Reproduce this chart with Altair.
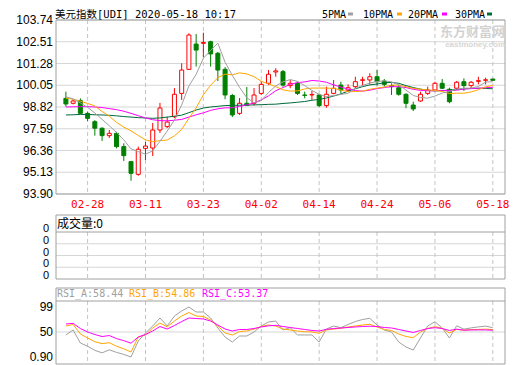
import altair as alt
import pandas as pd

# ---------------- data ----------------
dates = ["02-25", "02-26", "02-27", "02-28", "03-02", "03-03", "03-04", "03-05", "03-06", "03-09",
         "03-10", "03-11", "03-12", "03-13", "03-16", "03-17", "03-18", "03-19", "03-20", "03-23",
         "03-24", "03-25", "03-26", "03-27", "03-30", "03-31", "04-01", "04-02", "04-03", "04-06",
         "04-07", "04-08", "04-09", "04-10", "04-13", "04-14", "04-15", "04-16", "04-17", "04-20",
         "04-21", "04-22", "04-23", "04-24", "04-27", "04-28", "04-29", "04-30", "05-01", "05-04",
         "05-05", "05-06", "05-07", "05-08", "05-11", "05-12", "05-13", "05-14", "05-15", "05-18"]

open_ = [99.31, 99.03, 99.18, 98.46, 97.99, 97.62, 97.20, 97.33, 96.58, 95.73,
         95.01, 96.48, 96.50, 97.52, 97.71, 98.27, 99.59, 100.95, 102.38, 102.42,
         102.51, 101.86, 100.95, 99.47, 98.46, 99.03, 99.03, 99.59, 100.16, 100.80,
         100.82, 100.03, 100.16, 99.50, 99.50, 99.50, 98.90, 99.59, 100.06, 99.77,
         99.97, 100.33, 100.35, 100.53, 100.29, 100.03, 99.91, 99.54, 98.93, 99.16,
         99.59, 99.78, 100.16, 99.82, 99.88, 100.25, 100.03, 100.27, 100.33, 100.40]
high = [99.69, 99.26, 99.31, 98.55, 98.08, 97.67, 97.52, 97.42, 96.77, 95.77,
        96.58, 96.84, 97.92, 99.05, 98.27, 99.89, 101.29, 102.99, 102.95, 103.02,
        102.57, 101.93, 101.08, 99.56, 99.33, 99.95, 99.89, 100.29, 100.91, 101.01,
        100.91, 100.35, 100.25, 99.69, 99.73, 99.56, 99.97, 100.35, 100.25, 100.10,
        100.53, 100.53, 100.73, 100.91, 100.40, 100.16, 100.06, 99.59, 99.12, 99.69,
        99.97, 100.25, 100.40, 99.91, 100.29, 100.44, 100.29, 100.53, 100.48, 100.42]
low = [98.84, 98.97, 98.41, 98.03, 97.20, 96.90, 97.07, 96.48, 95.77, 94.65,
       94.93, 95.82, 96.05, 97.35, 97.63, 98.20, 99.22, 100.91, 101.11, 101.65,
       101.10, 100.29, 99.26, 98.25, 98.37, 98.88, 98.91, 99.50, 100.06, 100.53,
       99.97, 99.88, 99.50, 99.31, 99.22, 98.82, 98.78, 99.54, 99.59, 99.69,
       99.88, 100.03, 100.10, 100.03, 99.97, 99.50, 99.46, 98.75, 98.59, 99.12,
       99.50, 99.73, 99.84, 99.03, 99.78, 99.73, 99.88, 100.10, 100.10, 100.31]
close = [98.99, 99.16, 98.46, 98.18, 97.62, 97.20, 97.33, 96.58, 96.07, 95.07,
         96.43, 96.61, 97.52, 98.76, 97.97, 99.54, 100.91, 102.89, 102.04, 102.47,
         101.82, 100.91, 99.50, 98.37, 99.03, 98.91, 99.50, 100.10, 100.67, 100.86,
         100.06, 100.16, 99.59, 99.48, 99.53, 98.90, 99.54, 99.88, 99.78, 99.91,
         100.25, 100.36, 100.53, 100.25, 100.10, 99.97, 99.54, 99.03, 98.71, 99.54,
         99.78, 100.16, 99.88, 99.12, 100.22, 100.03, 100.22, 100.31, 100.36, 100.33]

ma5 = [99.40, 99.28, 99.05, 98.80, 98.48, 98.12, 97.76, 97.38, 96.96, 96.45,
       96.30, 96.15, 96.34, 96.88, 97.46, 98.08, 98.94, 100.01, 100.67, 101.57,
       102.03, 102.43, 101.35, 100.61, 99.93, 99.34, 99.06, 99.18, 99.64, 100.01,
       100.24, 100.37, 100.27, 100.03, 99.76, 99.53, 99.41, 99.47, 99.53, 99.60,
       99.87, 100.04, 100.17, 100.26, 100.30, 100.24, 100.08, 99.78, 99.47, 99.36,
       99.32, 99.44, 99.61, 99.70, 99.83, 99.88, 99.89, 99.98, 100.23, 100.25]
ma10 = [99.32, 99.26, 99.15, 99.02, 98.88, 98.57, 98.30, 97.95, 97.68, 97.47,
        97.21, 96.96, 96.86, 96.92, 96.95, 97.19, 97.55, 98.18, 98.77, 99.51,
        100.05, 100.48, 100.68, 100.64, 100.75, 100.69, 100.54, 100.27, 100.13, 99.97,
        99.79, 99.72, 99.73, 99.84, 99.89, 99.89, 99.89, 99.87, 99.78, 99.68,
        99.70, 99.72, 99.82, 99.89, 99.95, 100.06, 100.06, 99.97, 99.87, 99.83,
        99.78, 99.76, 99.70, 99.58, 99.60, 99.60, 99.67, 99.80, 99.96, 100.04]
ma20 = [98.82, 98.83, 98.84, 98.84, 98.82, 98.79, 98.73, 98.67, 98.58, 98.46,
        98.33, 98.20, 98.10, 98.05, 98.04, 98.07, 98.12, 98.25, 98.38, 98.49,
        98.63, 98.72, 98.77, 98.78, 98.85, 98.94, 99.05, 99.22, 99.45, 99.74,
        99.92, 100.10, 100.20, 100.24, 100.32, 100.29, 100.22, 100.07, 99.95, 99.83,
        99.75, 99.72, 99.77, 99.86, 99.92, 99.97, 99.97, 99.92, 99.82, 99.76,
        99.74, 99.74, 99.76, 99.74, 99.77, 99.83, 99.86, 99.88, 99.91, 99.93]
ma30 = [98.37, 98.38, 98.40, 98.40, 98.38, 98.37, 98.35, 98.32, 98.28, 98.25,
        98.22, 98.20, 98.18, 98.20, 98.25, 98.30, 98.36, 98.50, 98.65, 98.76,
        98.82, 98.86, 98.90, 98.91, 98.92, 98.93, 98.94, 98.95, 98.97, 98.98,
        99.02, 99.05, 99.09, 99.13, 99.20, 99.25, 99.33, 99.44, 99.56, 99.72,
        99.85, 99.97, 100.07, 100.12, 100.19, 100.21, 100.16, 100.03, 99.92, 99.83,
        99.76, 99.73, 99.75, 99.77, 99.81, 99.85, 99.87, 99.88, 99.87, 99.85]

volume = [0, 0, 0, 0, 0, 0, 0, 0, 0, 0, 0, 0, 0, 0, 0, 0, 0, 0, 0, 0,
          0, 0, 0, 0, 0, 0, 0, 0, 0, 0, 0, 0, 0, 0, 0, 0, 0, 0, 0, 0,
          0, 0, 0, 0, 0, 0, 0, 0, 0, 0, 0, 0, 0, 0, 0, 0, 0, 0, 0, 0]

rsi_a = [44.1, 53.9, 28.4, 22.0, 14.0, 9.0, 15.0, 10.0, 6.0, 0.9,
         32.3, 48.0, 61.7, 77.4, 61.7, 81.3, 91.2, 99.0, 89.2, 89.2,
         77.4, 57.8, 40.1, 30.3, 42.1, 42.1, 50.0, 61.7, 69.6, 71.5,
         53.9, 58.4, 44.1, 44.1, 44.1, 30.3, 55.8, 61.7, 58.4, 64.7,
         70.5, 74.5, 76.8, 63.7, 53.9, 50.0, 30.3, 20.5, 14.6, 38.2,
         61.7, 70.2, 57.8, 38.2, 62.0, 55.5, 58.0, 60.0, 61.5, 58.44]
rsi_b = [61.7, 64.7, 46.0, 38.2, 31.0, 27.0, 29.0, 22.0, 17.0, 10.7,
         40.1, 44.1, 57.8, 67.6, 59.8, 71.5, 81.3, 88.2, 81.3, 80.4,
         73.5, 61.7, 48.0, 44.1, 50.9, 51.9, 55.8, 60.7, 63.7, 61.7,
         55.8, 53.9, 51.9, 50.5, 50.0, 47.4, 53.9, 55.8, 57.2, 59.8,
         61.7, 63.7, 65.1, 59.8, 54.9, 52.9, 46.0, 41.1, 38.8, 50.0,
         56.8, 60.3, 57.2, 48.0, 55.0, 53.5, 54.5, 55.0, 55.5, 54.86]
rsi_c = [65.6, 67.0, 56.8, 50.0, 45.0, 41.0, 43.0, 37.0, 33.0, 28.0,
         40.1, 45.0, 51.9, 60.7, 55.8, 62.7, 70.5, 77.4, 76.4, 75.5,
         71.5, 63.7, 55.8, 51.9, 54.9, 54.9, 56.8, 59.8, 62.1, 63.1,
         60.7, 58.8, 56.8, 54.9, 52.9, 51.9, 55.2, 56.8, 57.8, 58.8,
         59.8, 60.7, 61.3, 60.7, 58.8, 57.8, 54.9, 51.9, 49.0, 52.9,
         56.8, 58.4, 56.8, 52.9, 55.5, 53.5, 54.0, 54.0, 54.0, 53.37]

price_ticks = [103.74, 102.51, 101.28, 100.05, 98.82, 97.59, 96.36, 95.13, 93.90]
price_tick_labels = ["103.74", "102.51", "101.28", "100.05", "98.82", "97.59", "96.36", "95.13", "93.90"]
date_labels = ["02-28", "03-11", "03-23", "04-02", "04-14", "04-24", "05-06", "05-18"]
vol_ticks = [4, 3, 2, 1, 0]
vol_tick_labels = ["0", "0", "0", "0", "0"]
rsi_ticks = [99, 50, 0.90]
rsi_tick_labels = ["99", "50", "0.90"]

title = "美元指数[UDI] 2020-05-18 10:17"
legend_names = ["5PMA", "10PMA", "20PMA", "30PMA"]
vol_header = "成交量:0"
rsi_headers = ["RSI_A:58.44", "RSI_B:54.86", "RSI_C:53.37"]

# ---------------- styling ----------------
RED = "#ff0000"
GREEN = "#008000"
C5, C10, C20, C30 = "#a0a0a0", "#ffa500", "#ff00ff", "#006b3c"
FRAME = "#a0a0a0"
GRID = "#d6d6d6"
MONO = "DejaVu Sans Mono"
MIXED = "DejaVu Sans Mono, Noto Sans CJK SC"
CJK = "Noto Sans CJK SC"
W, H = 449, 344

df = pd.DataFrame({
    "idx": list(range(len(dates))), "date": dates,
    "open": open_, "high": high, "low": low, "close": close,
    "ma5": ma5, "ma10": ma10, "ma20": ma20, "ma30": ma30,
    "vol": volume, "rsi_a": rsi_a, "rsi_b": rsi_b, "rsi_c": rsi_c,
})
df["dir"] = ["up" if c >= o else "down" for o, c in zip(open_, close)]
df["body_lo"] = [min(o, c) for o, c in zip(open_, close)]
df["body_hi"] = [max(o, c) for o, c in zip(open_, close)]

pt = pd.DataFrame({"value": price_ticks, "label": price_tick_labels})
vt = pd.DataFrame({"value": vol_ticks, "label": vol_tick_labels})
rt = pd.DataFrame({"value": rsi_ticks, "label": rsi_tick_labels})
one = pd.DataFrame({"k": [0]})

XS = alt.Scale(domain=[-0.676, 59.99], nice=False, zero=False)
X = alt.X("idx:Q", scale=XS, axis=None)
PS = alt.Scale(domain=[93.90, 103.74], range=[174, 0], nice=False, zero=False)
VS = alt.Scale(domain=[0, 4], range=[259, 212], nice=False, zero=False)
RS = alt.Scale(domain=[0.90, 99], range=[337, 287], nice=False, zero=False)

base = alt.Chart(df)
labeled = base.transform_filter(alt.FieldOneOfPredicate(field="date", oneOf=date_labels))

layers = []

# gridlines
layers.append(alt.Chart(pt).mark_rule(color=GRID, strokeWidth=1).encode(
    y=alt.Y("value:Q", scale=PS, axis=None), x=alt.value(0), x2=alt.value(W)))
layers.append(alt.Chart(vt).transform_filter("datum.value > 0 && datum.value < 4").mark_rule(color=GRID, strokeWidth=1).encode(
    y=alt.Y("value:Q", scale=VS, axis=None), x=alt.value(0), x2=alt.value(W)))
layers.append(alt.Chart(rt).transform_filter("datum.value == 50").mark_rule(color=GRID, strokeWidth=1).encode(
    y=alt.Y("value:Q", scale=RS, axis=None), x=alt.value(0), x2=alt.value(W)))
for y0, y1 in [(0, 174), (212, 259), (281, 344)]:
    layers.append(labeled.mark_rule(color="#c4c4c4", strokeWidth=1, strokeDash=[4, 3]).encode(
        x=X, y=alt.value(y0), y2=alt.value(y1)))

# panel frames and header separators
for y0, y1 in [(0, 174), (195, 259), (268, 344)]:
    layers.append(alt.Chart(one).mark_rect(fill="transparent", stroke=FRAME, strokeWidth=1).encode(
        x=alt.value(0), x2=alt.value(W), y=alt.value(y0), y2=alt.value(y1)))
for ysep in [212, 281]:
    layers.append(alt.Chart(one).mark_rule(color=FRAME, strokeWidth=1).encode(
        x=alt.value(0), x2=alt.value(W), y=alt.value(ysep)))

# candles
layers.append(base.mark_rule(strokeWidth=1).encode(
    x=X, y=alt.Y("low:Q", scale=PS, axis=None), y2="high:Q",
    color=alt.Color("dir:N", scale=alt.Scale(domain=["up", "down"], range=[RED, GREEN]), legend=None)))
layers.append(base.transform_filter("datum.dir == 'up'").mark_bar(size=4, fill="white", stroke=RED, strokeWidth=1).encode(
    x=X, y=alt.Y("body_lo:Q", scale=PS, axis=None), y2="body_hi:Q"))
layers.append(base.transform_filter("datum.dir == 'down'").mark_bar(size=4, fill=GREEN, stroke=GREEN, strokeWidth=1).encode(
    x=X, y=alt.Y("body_lo:Q", scale=PS, axis=None), y2="body_hi:Q"))

# moving averages
for field, col in [("ma30", C30), ("ma20", C20), ("ma10", C10), ("ma5", C5)]:
    layers.append(base.mark_line(color=col, strokeWidth=1).encode(
        x=X, y=alt.Y(f"{field}:Q", scale=PS, axis=None)))

# volume (all zero)
layers.append(base.mark_bar(size=4, color=GREEN).encode(
    x=X, y=alt.Y("vol:Q", scale=VS, axis=None)))

# RSI lines
for field, col in [("rsi_a", C5), ("rsi_b", C10), ("rsi_c", C20)]:
    layers.append(base.mark_line(color=col, strokeWidth=1).encode(
        x=X, y=alt.Y(f"{field}:Q", scale=RS, axis=None)))

# axis labels
layers.append(alt.Chart(pt).mark_text(align="right", baseline="middle", font="Liberation Sans", fontSize=12, color="black").encode(
    y=alt.Y("value:Q", scale=PS, axis=None), x=alt.value(-3), text="label:N"))
layers.append(alt.Chart(vt).mark_text(align="right", baseline="middle", font="Liberation Sans", fontSize=11, color="black", dy=-3).encode(
    y=alt.Y("value:Q", scale=VS, axis=None), x=alt.value(-7), text="label:N"))
layers.append(alt.Chart(rt).mark_text(align="right", baseline="middle", font="Liberation Sans", fontSize=12, color="black").encode(
    y=alt.Y("value:Q", scale=RS, axis=None), x=alt.value(-3), text="label:N"))
layers.append(labeled.mark_text(align="center", baseline="middle", font=MONO, fontSize=11, color=RED).encode(
    x=X, y=alt.value(185), text="date:N"))

# title
layers.append(alt.Chart(one).mark_text(align="left", baseline="middle", font=MIXED, fontSize=10.5, color="black", text=title).encode(
    x=alt.value(-1), y=alt.value(-5.5)))

# legend
leg_x = [266, 307, 352, 399]
dash_x = [292, 341, 386, 431]
for name, lx, dx, col in zip(legend_names, leg_x, dash_x, [C5, C10, C20, C30]):
    layers.append(alt.Chart(one).mark_text(align="left", baseline="middle", font=MONO, fontSize=10, color="black", text=name).encode(
        x=alt.value(lx), y=alt.value(-5.5)))
    layers.append(alt.Chart(one).mark_rule(color=col, strokeWidth=3).encode(
        x=alt.value(dx), x2=alt.value(dx + 5), y=alt.value(-6)))

# watermark
layers.append(alt.Chart(one).mark_text(align="right", baseline="middle", font=CJK, fontSize=13, fontWeight="bold", color="#d2d2d2", text="东方财富网").encode(
    x=alt.value(449), y=alt.value(12)))
layers.append(alt.Chart(one).mark_text(align="right", baseline="middle", font="Liberation Sans", fontSize=8, fontWeight="bold", color="#d6d6d6", text="eastmoney.com").encode(
    x=alt.value(449), y=alt.value(25)))

# panel headers
layers.append(alt.Chart(one).mark_text(align="left", baseline="middle", font=CJK, fontSize=12, color="black", text=vol_header).encode(
    x=alt.value(1), y=alt.value(204)))
for txt, hx, col in zip(rsi_headers, [1, 73, 146], [C5, C10, C20]):
    layers.append(alt.Chart(one).mark_text(align="left", baseline="middle", font=MONO, fontSize=10, color=col, text=txt).encode(
        x=alt.value(hx), y=alt.value(274)))

chart = alt.layer(*layers).resolve_scale(y="independent").properties(
    width=W, height=H,
    autosize=alt.AutoSizeParams(type="none"),
    padding={"left": 48, "top": 12, "right": 5, "bottom": 1},
).configure_view(strokeWidth=0)

chart.save("out.html", embed_options={"renderer": "svg", "actions": False})
